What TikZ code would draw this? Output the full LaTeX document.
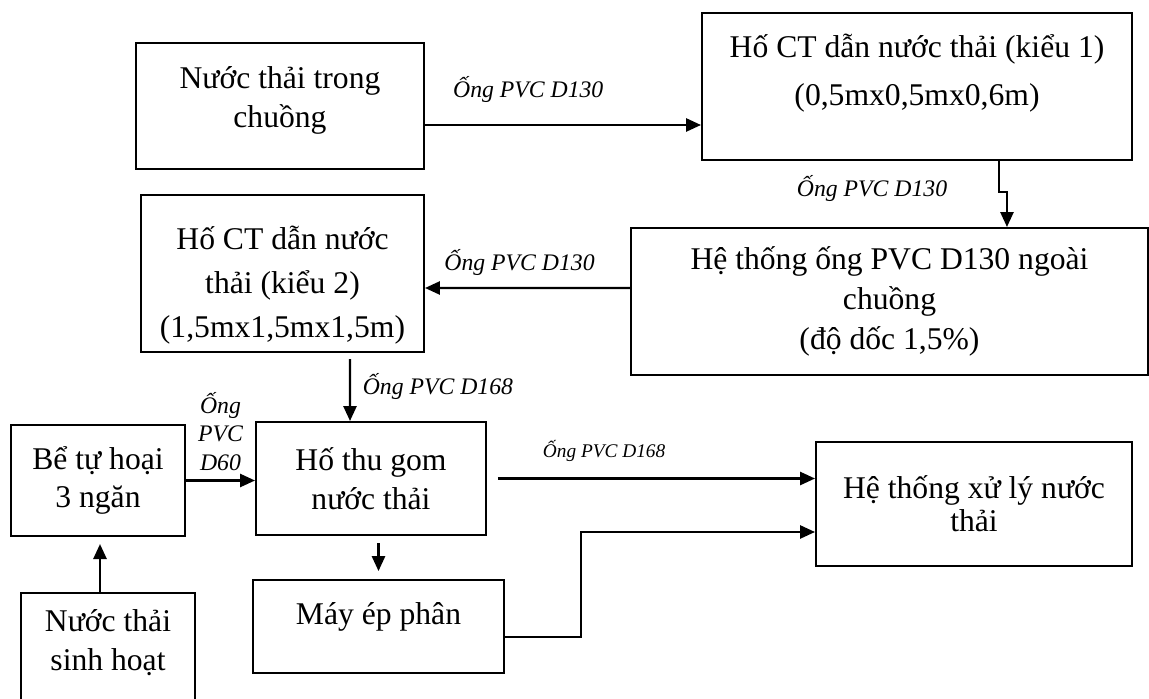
\documentclass[tikz,border=0pt]{standalone}
\usepackage{fontspec}
\setmainfont{Liberation Serif}
\usetikzlibrary{arrows.meta}

\tikzset{
  box/.style={draw, line width=1.2pt, align=center, inner sep=2pt,
              font=\fontsize{18}{22}\selectfont},
  lbl/.style={font=\fontsize{13.5}{16}\selectfont\itshape, inner sep=1pt},
  smalllbl/.style={font=\fontsize{11}{13}\selectfont\itshape, inner sep=1pt}
}

\begin{document}
\begin{tikzpicture}
      [ x=0.02cm, y=-0.02cm, line width=1.2pt,
        >={Triangle[length=8.5pt,width=7.5pt]}
      ]
      \useasboundingbox (0,0) rectangle (1149,699);

      \node[box, minimum width=5.76cm,  minimum height=2.52cm] (trong)     at (280,106)   {Nước thải trong\\chuồng\rule[-10pt]{0pt}{10pt}};
      \node[box, minimum width=8.6cm,   minimum height=2.94cm] (hoct1)     at (917,86.5)  {Hố CT dẫn nước thải (kiểu 1)\\[5pt](0,5mx0,5mx0,6m)\rule[-19pt]{0pt}{19pt}};
      \node[box, minimum width=10.34cm, minimum height=2.94cm] (ongngoai)  at (889.5,301.5) {Hệ thống ống PVC D130 ngoài\\[1pt]chuồng\\[1pt](độ dốc 1,5\%)};
      \node[box, minimum width=5.66cm,  minimum height=3.14cm] (hoct2)     at (282.5,273.5) {\rule{0pt}{27pt}Hố CT dẫn nước\\[3pt]thải (kiểu 2)\\[3pt](1,5mx1,5mx1,5m)};
      \node[box, minimum width=4.6cm,   minimum height=2.26cm] (hothugom)  at (371,478.5) {Hố thu gom\\nước thải};
      \node[box, minimum width=3.48cm,  minimum height=2.22cm] (betuhoai)  at (98,480.5)  {Bể tự hoại\\3 ngăn};
      \node[box, minimum width=5.02cm,  minimum height=1.86cm] (mayep)     at (378.5,626.5) {Máy ép phân\rule[-15pt]{0pt}{15pt}};
      \node[box, minimum width=3.48cm,  minimum height=2.24cm] (sinhhoat)  at (108,649)   {Nước thải\\sinh hoạt\rule[-10pt]{0pt}{10pt}};
      \node[box, minimum width=6.32cm,  minimum height=2.48cm] (xuly)      at (974,504)   {Hệ thống xử lý nước\\[-3pt]thải};

      \path[->] ([yshift=-0.38cm]trong.east)    edge node[lbl, pos=.374, yshift=.7cm] {Ống PVC D130} ([yshift=-0.38cm]trong.east -| hoct1.west)
                ([yshift=0.27cm]ongngoai.west)  edge node[lbl, pos=.539, yshift=.52cm] {Ống PVC D130} ([yshift=-0.29cm]hoct2.east)
                ([xshift=1.35cm]hoct2.south)    edge [shorten <=3.4pt] node[lbl, pos=.5, anchor=west, xshift=.2cm] {Ống PVC D168} ([xshift=-0.42cm]hothugom.north)
                (betuhoai.east)                 edge node[lbl, align=center, yshift=.98cm] {Ống\\PVC\\D60} (betuhoai.east -| hothugom.west)
                (hothugom.east)                 edge [shorten <=6.2pt] node[smalllbl, pos=.357, yshift=.55cm] {Ống PVC D168} (hothugom.east -| xuly.west)
                (mayep.north |- hothugom.south) edge [shorten <=4pt, shorten >=4.5pt] (mayep.north)
                ([xshift=-0.16cm]sinhhoat.north) edge [shorten >=4pt] ([xshift=-0.16cm]sinhhoat.north |- betuhoai.south);

      \draw[->] ([xshift=1.64cm]hoct1.south) -- node[lbl, pos=.9, xshift=-2.54cm] {Ống PVC D130} ++(0,31) -| ([xshift=2.35cm]ongngoai.north);
      \draw[->] ([yshift=-0.21cm]mayep.east) -- ++(76,0) |- ([yshift=-0.56cm]xuly.west);

    \end{tikzpicture}
\end{document}
